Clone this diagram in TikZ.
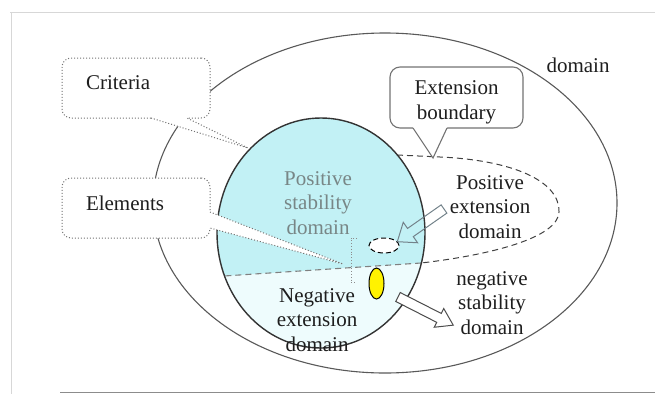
\documentclass[tikz,border=0pt]{standalone}
\usepackage{fontspec}
\setmainfont{Liberation Serif}
\newfontfamily\diagfont{Liberation Serif}
\definecolor{cyanfill}{RGB}{194,241,245}
\definecolor{cyanlight}{RGB}{238,252,253}
\definecolor{txtgray}{RGB}{120,134,134}
\definecolor{framegray}{RGB}{215,215,215}
\definecolor{inktxt}{RGB}{30,30,30}
\tikzset{
  lbl/.style={align=center, inner sep=0pt, text=inktxt},
  dotbox/.style={draw=black!55, dotted, line width=1pt, fill=white, rounded corners=9pt,
    minimum width=148pt, minimum height=60pt, text width=100pt, inner xsep=24pt,
    align=left, text depth=10pt, text=inktxt},
  dotptr/.style={draw=black!55, dotted, line width=1pt},
  solidbox/.style={draw=black!55, line width=1.1pt, fill=white, rounded corners=10pt,
    minimum width=133pt, minimum height=61pt, align=center, text=inktxt, text height=48pt},
  solidptr/.style={draw=black!55, line width=1.1pt},
  blkarrow/.style={line width=1pt, line join=miter}
}
\begin{document}
\begin{tikzpicture}[x=1pt,y=-1pt,font=\diagfont\fontsize{21}{24.5}\selectfont]
\useasboundingbox (0,0) rectangle (655,394);
% frame
\draw[framegray, line width=1pt] (10,12.5) -- (655,12.5);
\draw[framegray, line width=1pt] (11,12) -- (11,394);
\draw[black!45, line width=1pt] (60,392.5) -- (655,392.5);
% outer domain
\draw[black!65, line width=1.1pt] (385,203) ellipse [x radius=232pt, y radius=170pt];
% inner ellipse fills
\fill[cyanlight] (321,233) ellipse [x radius=104pt, y radius=115pt];
\begin{scope}
  \clip (321,233) ellipse [x radius=104pt, y radius=115pt];
  \fill[cyanfill] (200,100) -- (440,100) -- (440,261.7) -- (421,263) -- (225,276) -- (200,277.7) -- cycle;
\end{scope}
% extension boundary
\draw[black!50, dash pattern=on 6pt off 4pt, line width=1.1pt] (421,263) -- (224,276);
\draw[black!75, dash pattern=on 6pt off 4pt, line width=1pt]
  (397,155) -- (440,157) .. controls (510,160) and (560,180) .. (559,212)
  .. controls (558,238) and (490,255) .. (421,263);
% inner outline
\draw[black!80, line width=1.4pt] (321,233) ellipse [x radius=104pt, y radius=115pt];
% elements
\draw[black, dash pattern=on 5pt off 3pt, fill=white, line width=1pt] (384,245.5) ellipse [x radius=15pt, y radius=7.5pt];
\draw[black, fill=yellow, line width=1pt] (376.5,283.5) ellipse [x radius=7.5pt, y radius=15.5pt];
\draw[black!45, dotted, line width=0.8pt] (357,238) -- (351,238) -- (351,282) -- (356,282);
% block arrows
\begin{scope}[shift={(444,209)}, rotate=215]
  \draw[blkarrow, draw=black!55!cyan!40!gray] (0,-5) -- (41,-5) -- (41,-12.5) -- (57,0) -- (41,12.5) -- (41,5) -- (0,5) -- cycle;
\end{scope}
\begin{scope}[shift={(398,297)}, rotate=-27]
  \draw[blkarrow, draw=black!70, fill=white] (0,-5) -- (46,-5) -- (46,-10.5) -- (62,0) -- (46,10.5) -- (46,5) -- (0,5) -- cycle;
\end{scope}
% callouts
\node[dotbox] (crit) at (136,88) {Criteria};
\fill[white] (151,114) -- (187,114) -- (187,118) -- (248,148) -- (151,118) -- cycle;
\draw[dotptr] (151,118) -- (248,148) -- (187,118);
\node[dotbox] (elem) at (136,208) {Elements};
\fill[white] (205,212) -- (210,212) -- (343,264) -- (210,228) -- (205,228) -- cycle;
\draw[dotptr] (210,212) -- (343,264) -- (210,228);
\node[solidbox] (extb) at (456.5,97.5) {Extension\\boundary};
\fill[white] (413,124) -- (447,124) -- (447,128) -- (433,158) -- (413,128) -- cycle;
\draw[solidptr] (413,128) -- (433,158) -- (447,128);
% labels
\node[lbl] (dom) at (578,65) {domain};
\node[lbl, text=txtgray] (psd) at (318,203) {Positive\\stability\\domain};
\node[lbl] (ned) at (317,320) {Negative\\extension\\domain};
\node[lbl] (ped) at (490,207) {Positive\\extension\\domain};
\node[lbl] (nsd) at (492,303) {negative\\stability\\domain};
\end{tikzpicture}
\end{document}
